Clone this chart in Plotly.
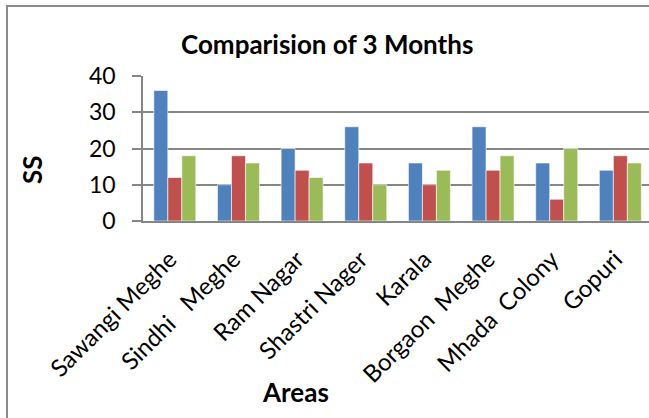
import plotly.graph_objects as go

areas = ["Sawangi Meghe", "Sindhi\u00a0\u00a0\u00a0Meghe", "Ram Nagar", "Shastri Nager",
         "Karala", "Borgaon\u00a0\u00a0Meghe", "Mhada\u00a0\u00a0Colony", "Gopuri"]
month1 = [36, 10, 20, 26, 16, 26, 16, 14]
month2 = [12, 18, 14, 16, 10, 14, 6, 18]
month3 = [18, 16, 12, 10, 14, 18, 20, 16]
series_names = ["Month 1", "Month 2", "Month 3"]
colors = ["#4F81BD", "#C0504D", "#9BBB59"]

W, H = 649, 418
L, R, T, B = 143, 0, 76, 197
pw, ph = W - L - R, H - T - B

def px(x):
    return (x - L) / pw

def py(y):
    return (H - B - y) / ph

fig = go.Figure()
for name, vals, c in zip(series_names, [month1, month2, month3], colors):
    fig.add_trace(go.Bar(x=areas, y=vals, name=name,
                         marker=dict(color=c, line=dict(color="rgba(255,255,255,0.6)", width=1))))

font = "Lato, 'Open Sans', sans-serif"
fig.update_layout(
    width=W, height=H,
    margin=dict(l=L, r=R, t=T, b=B),
    paper_bgcolor="white", plot_bgcolor="white",
    showlegend=False,
    barmode="group", bargap=0.34, bargroupgap=0,
    font=dict(family=font, color="black", size=20),
    xaxis=dict(range=[-0.5, 7.45], showgrid=False, tickangle=-45, ticks="",
               showline=True, linecolor="#868686", linewidth=1.5,
               tickfont=dict(size=24), ticklabelstandoff=13, ticklabelshift=-5,
               automargin=False),
    yaxis=dict(range=[0, 40], dtick=10, showgrid=True, gridcolor="#868686", gridwidth=1.5,
               showline=True, linecolor="#868686", linewidth=1.5,
               ticks="outside", ticklen=9, tickcolor="#868686", tickwidth=1.5,
               tickfont=dict(size=23), ticklabelstandoff=12, zeroline=False, automargin=False),
    shapes=[dict(type="rect", xref="paper", yref="paper",
                 x0=px(7), x1=px(700), y0=py(460), y1=py(6),
                 line=dict(color="#8C8C8C", width=2), layer="below")],
    annotations=[
        dict(text="<b>Comparision of 3 Months</b>", xref="paper", yref="paper",
             x=px(327), y=py(44), xanchor="center", yanchor="middle",
             showarrow=False, font=dict(size=26)),
        dict(text="<b>SS</b>", xref="paper", yref="paper", textangle=-90,
             x=px(32), y=py(170), xanchor="center", yanchor="middle",
             showarrow=False, font=dict(size=26)),
        dict(text="<b>Areas</b>", xref="paper", yref="paper",
             x=px(295), y=py(392), xanchor="center", yanchor="middle",
             showarrow=False, font=dict(size=26)),
    ],
)
fig.write_html("out.html", config={"displayModeBar": False},
               post_script="document.body.style.margin='0';")
